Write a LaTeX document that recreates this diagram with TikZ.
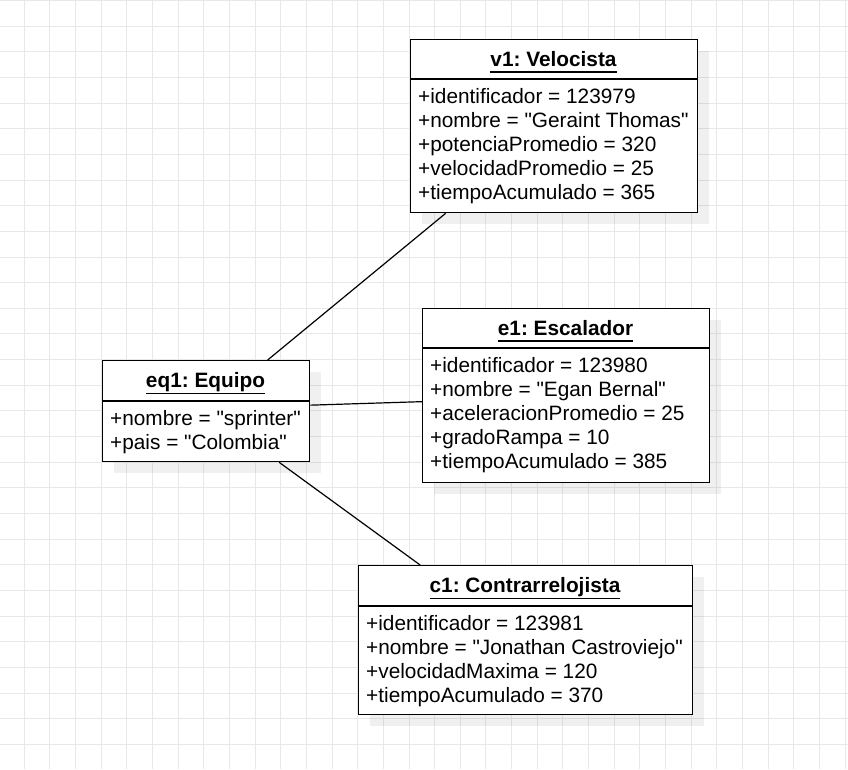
\documentclass[tikz,border=0pt]{standalone}
\usepackage{fontspec}
\setmainfont{Liberation Sans}
\usetikzlibrary{shadows}
\frenchspacing

% underlined object name, rule at a fixed depth
\newcommand\objname[1]{\setbox0\hbox{#1}\rlap{\rule[-6.5pt]{\wd0}{1.4pt}}\box0}

\tikzset{
  objbox/.style={draw, line width=1.3pt, fill=white, anchor=north west, inner sep=0pt,
    drop shadow={shadow xshift=11pt, shadow yshift=-11pt, fill=black, opacity=0.06}},
  objtitle/.style={anchor=base, inner sep=0pt, font=\fontsize{20.8}{24}\selectfont\bfseries},
  objattr/.style={anchor=base west, inner sep=0pt, font=\fontsize{20.8}{24}\selectfont},
  sepline/.style={line width=1.3pt},
  link/.style={line width=1.2pt}
}

\begin{document}
\begin{tikzpicture}[x=1pt, y=-1pt]
  \useasboundingbox (0,0) rectangle (848,769);

  % background grid
  \foreach \k in {0,...,34}
    \draw[black!9, line width=1pt] ({-1.4+25.65*\k},0) -- ({-1.4+25.65*\k},769);
  \foreach \k in {0,...,30}
    \draw[black!9, line width=1pt] (0,{0.5+25.65*\k}) -- (848,{0.5+25.65*\k});

  % objects
  \node[objbox, minimum width=287pt, minimum height=173pt] (v1) at (410,39) {};
  \node[objbox, minimum width=287pt, minimum height=174pt] (e1) at (422,308) {};
  \node[objbox, minimum width=207pt, minimum height=101pt] (eq1) at (102,360) {};
  \node[objbox, minimum width=334pt, minimum height=149pt] (c1) at (358,565) {};

  % headers
  \draw[sepline] (v1.west |- 0,79) -- (v1.east |- 0,79);
  \draw[sepline] (e1.west |- 0,348) -- (e1.east |- 0,348);
  \draw[sepline] (eq1.west |- 0,401) -- (eq1.east |- 0,401);
  \draw[sepline] (c1.west |- 0,606) -- (c1.east |- 0,606);

  \node[objtitle] (v1-name) at (553.5,66) {\objname{v1: Velocista}};
  \node[objtitle] (e1-name) at (565.5,335) {\objname{e1: Escalador}};
  \node[objtitle] (eq1-name) at (205.5,387.5) {\objname{eq1: Equipo}};
  \node[objtitle] (c1-name) at (525,592.5) {\objname{c1: Contrarrelojista}};

  % attributes
  \foreach \attr [count=\i] in {+identificador = 123979, +nombre = \textquotedbl Geraint Thomas\textquotedbl,
      +potenciaPromedio = 320, +velocidadPromedio = 25, +tiempoAcumulado = 365}
    \node[objattr] (v1-\i) at (418,{79+24*\i}) {\attr};
  \foreach \attr [count=\i] in {+identificador = 123980, +nombre = \textquotedbl Egan Bernal\textquotedbl,
      +aceleracionPromedio = 25, +gradoRampa = 10, +tiempoAcumulado = 385}
    \node[objattr] (e1-\i) at (430,{348+24*\i}) {\attr};
  \foreach \attr [count=\i] in {+nombre = \textquotedbl sprinter\textquotedbl, +pais = \textquotedbl Colombia\textquotedbl}
    \node[objattr] (eq1-\i) at (110,{401+24*\i}) {\attr};
  \foreach \attr [count=\i] in {+identificador = 123981, +nombre = \textquotedbl Jonathan Castroviejo\textquotedbl,
      +velocidadMaxima = 120, +tiempoAcumulado = 370}
    \node[objattr] (c1-\i) at (366,{606+24*\i}) {\attr};

  % links
  \draw[link] ([xshift=61.5pt]eq1.north) -- ([xshift=-108.5pt]v1.south);
  \draw[link] ([yshift=6pt]eq1.east) -- ([yshift=-6pt]e1.west);
  \draw[link] ([xshift=73pt]eq1.south) -- ([xshift=-105.5pt]c1.north);
\end{tikzpicture}
\end{document}
